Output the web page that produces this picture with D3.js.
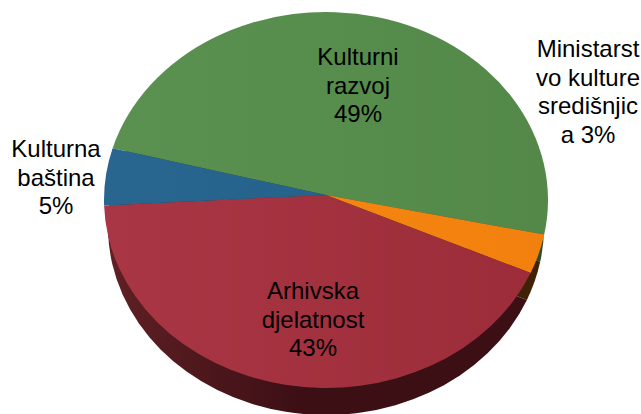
<!DOCTYPE html>
<html>
<head>
<meta charset="utf-8">
<script src="https://cdn.jsdelivr.net/npm/d3@7"></script>
<style>
    html, body { margin: 0; padding: 0; background: #fff; }
    svg { display: block; }
    text { font-family: "Liberation Sans", Arial, sans-serif; font-size: 24px; fill: #000; }
</style>
</head>
<body>
<svg id="chart" width="641" height="414"></svg>
<script>
// shares, the labels show them rounded
var categories = ['Kulturni razvoj', 'Ministarstvo kulture središnjica', 'Arhivska djelatnost', 'Kulturna baština'];
var shares = [48.5, 3.4, 43.2, 4.9];
// label wrapping as in the original, the percentage goes after the last entry
var labelLines = [
    ['Kulturni', 'razvoj', ''],
    ['Ministarst', 'vo kulture', 'središnjic', 'a '],
    ['Arhivska', 'djelatnost', ''],
    ['Kulturna', 'baština', '']
];
var topColors = [['#5a9150', '#538849'], ['#f78a12', '#f2800e'], ['#a93644', '#9c2c39'], ['#286690', '#245e85']];
var sideColors = [['#2e4a28', '#2e4a28'], ['#5a3008', '#3f2205'], ['#5f2024', '#3c0f15'], ['#163a52', '#163a52']];
var labelX = [358, 588, 313, 56];
var labelY = [65, 57, 299, 157];

var lineHeight = 28.5;
var faceEllipse = { cx: 326, cy: 200, rx: 222, ry: 188, apexX: 326, apexY: 195 };
var sideEllipse = { cx: 326, cy: 227, rx: 218, ry: 188, apexX: 326, apexY: 222 };

var svg = d3.select('#chart');
var defs = svg.append('defs');

var pie = d3.pie()
    .sort(null)
    .startAngle(-74 * Math.PI / 180)
    .endAngle((360 - 74) * Math.PI / 180);
var slices = pie(shares);

// the pie is tilted, so each slice is an elliptical sector with its own apex
function slicePath(d, e) {
    var x0 = e.cx + e.rx * Math.sin(d.startAngle);
    var y0 = e.cy - e.ry * Math.cos(d.startAngle);
    var x1 = e.cx + e.rx * Math.sin(d.endAngle);
    var y1 = e.cy - e.ry * Math.cos(d.endAngle);
    var large = d.endAngle - d.startAngle > Math.PI ? 1 : 0;
    return 'M' + e.apexX + ',' + e.apexY +
        'L' + x0 + ',' + y0 +
        'A' + e.rx + ',' + e.ry + ' 0 ' + large + ' 1 ' + x1 + ',' + y1 + 'Z';
}

function gradient(id, colors, x1, x2) {
    var g = defs.append('linearGradient')
        .attr('id', id)
        .attr('gradientUnits', 'userSpaceOnUse')
        .attr('x1', x1).attr('y1', 0)
        .attr('x2', x2).attr('y2', 0);
    g.append('stop').attr('offset', 0).attr('stop-color', colors[0]);
    g.append('stop').attr('offset', 1).attr('stop-color', colors[1]);
}

slices.forEach(function (d, i) {
    gradient('face' + i, topColors[i], 104, 547);
    gradient('side' + i, sideColors[i], 110, 300);
});

svg.append('g').attr('class', 'side')
    .selectAll('path')
    .data(slices)
    .enter()
    .append('path')
    .attr('d', function (d) { return slicePath(d, sideEllipse); })
    .attr('fill', function (d, i) { return 'url(#side' + i + ')'; });

svg.append('g').attr('class', 'face')
    .selectAll('path')
    .data(slices)
    .enter()
    .append('path')
    .attr('d', function (d) { return slicePath(d, faceEllipse); })
    .attr('fill', function (d, i) { return 'url(#face' + i + ')'; });

var labels = svg.append('g').attr('class', 'labels')
    .selectAll('text')
    .data(categories)
    .enter()
    .append('text')
    .attr('text-anchor', 'middle')
    .attr('y', function (d, i) { return labelY[i]; });

labels.each(function (d, i) {
    var lines = labelLines[i];
    d3.select(this).selectAll('tspan')
        .data(lines)
        .enter()
        .append('tspan')
        .attr('x', labelX[i])
        .attr('y', function (l, j) { return labelY[i] + j * lineHeight; })
        .text(function (l, j) {
            return j === lines.length - 1 ? l + Math.round(shares[i]) + '%' : l;
        });
});
</script>
</body>
</html>
